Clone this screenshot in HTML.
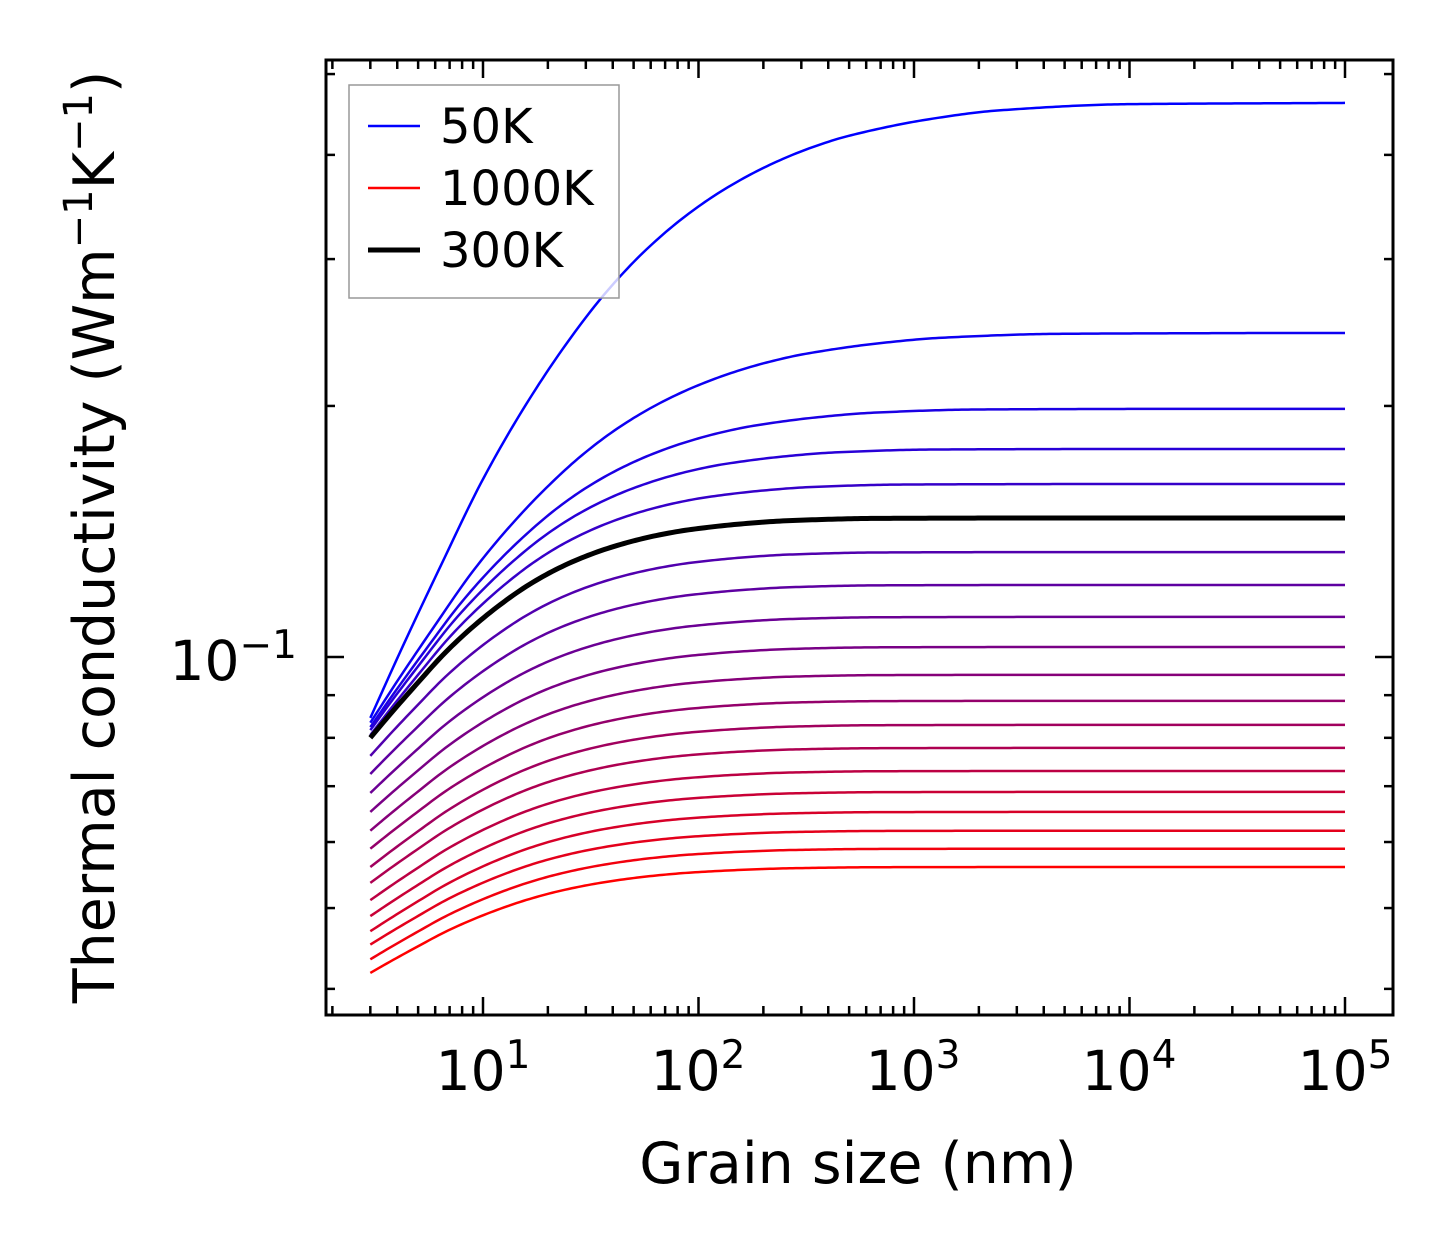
<!DOCTYPE html>
<html><head><meta charset="utf-8">
<style>
html,body{margin:0;padding:0;background:#fff;}
svg text{font-family:"DejaVu Sans","Liberation Sans",sans-serif;fill:#000;}
</style></head>
<body>
<svg id="chart" width="1454" height="1254" xmlns="http://www.w3.org/2000/svg">
  <rect x="0" y="0" width="1454" height="1254" fill="#fff"/>
  <g id="curves"></g>
  <g id="ticks"></g>
  <rect x="326" y="60" width="1067" height="955" fill="none" stroke="#000" stroke-width="3"/>
  <text x="483" y="1090" font-size="55" text-anchor="middle">10<tspan dy="-22" font-size="39">1</tspan></text>
  <text x="698" y="1090" font-size="55" text-anchor="middle">10<tspan dy="-22" font-size="39">2</tspan></text>
  <text x="913" y="1090" font-size="55" text-anchor="middle">10<tspan dy="-22" font-size="39">3</tspan></text>
  <text x="1129" y="1090" font-size="55" text-anchor="middle">10<tspan dy="-22" font-size="39">4</tspan></text>
  <text x="1345" y="1090" font-size="55" text-anchor="middle">10<tspan dy="-22" font-size="39">5</tspan></text>
  <text x="297" y="680" font-size="55" text-anchor="end">10<tspan dy="-22" font-size="39">−1</tspan></text>
  <text x="858" y="1183" font-size="57" text-anchor="middle">Grain size (nm)</text>
  <text transform="translate(114,537) rotate(-90)" font-size="57" text-anchor="middle">Thermal conductivity (Wm<tspan dy="-22" font-size="40">−1</tspan><tspan dy="22">K</tspan><tspan dy="-22" font-size="40">−1</tspan><tspan dy="22">)</tspan></text>
  <g>
    <rect x="349" y="85" width="270" height="213" fill="#fff" fill-opacity="0.8" stroke="#999" stroke-width="1.5"/>
    <line x1="368" y1="126" x2="420" y2="126" stroke="#0000ff" stroke-width="2.5"/>
    <text x="440" y="143" font-size="48">50K</text>
    <line x1="368" y1="188" x2="420" y2="188" stroke="#ff0000" stroke-width="2.5"/>
    <text x="440" y="205" font-size="48">1000K</text>
    <line x1="368" y1="250" x2="420" y2="250" stroke="#000" stroke-width="5"/>
    <text x="440" y="267" font-size="48">300K</text>
  </g>
</svg>
<script>
// Plateau conductivity (W/mK) at large grain size, per curve (50K ... 1000K)
const kInf = [0.4617,0.2446,0.1984,0.1776,0.1612,0.1468,0.1336,0.1220,0.1117,0.1028,0.0952,0.0886,0.0829,0.0778,0.0730,0.0689,0.0652,0.0619,0.0589,0.0560];
// Conductivity at smallest grain size (3 nm)
const kMin = [0.0845,0.0834,0.0824,0.0817,0.0806,0.0800,0.0761,0.0724,0.0687,0.0652,0.0619,0.0589,0.0560,0.0536,0.0511,0.0489,0.0469,0.0452,0.0434,0.0418];
// Saturation speed per curve
const knee = [1.0,1.1,1.25,1.35,1.43,1.5,1.5,1.5,1.5,1.5,1.5,1.5,1.5,1.5,1.5,1.5,1.5,1.5,1.5,1.5];
// Saturation shape (fraction of log-rise) vs log10 grain size
const shapeLogL = [0.477,0.619,0.810,0.995,1.186,1.376,1.566,1.756,1.947,2.132,2.323,2.513,2.703,3.079,3.399,4,5];
const shapeFrac = [0,0.110,0.252,0.385,0.502,0.603,0.690,0.761,0.818,0.862,0.898,0.926,0.947,0.974,0.988,0.998,1];
const blackIndex = 5;

const NS="http://www.w3.org/2000/svg";
const xPix = v => 483 + 215.5*(Math.log10(v)-1);
const yPix = v => 657 - 834*Math.log10(v/0.1);
// monotone cubic (Fritsch-Carlson) interpolation of the shape table
const nS=shapeLogL.length, dS=[], mS=[];
for(let i=0;i<nS-1;i++) dS.push((shapeFrac[i+1]-shapeFrac[i])/(shapeLogL[i+1]-shapeLogL[i]));
for(let i=0;i<nS;i++){
  if(i===0) mS.push(dS[0]); else if(i===nS-1) mS.push(dS[nS-2]);
  else mS.push(dS[i-1]*dS[i]<=0?0:2/(1/dS[i-1]+1/dS[i]));
}
function shape(u){
  if(u<=shapeLogL[0]) return 0;
  if(u>=shapeLogL[nS-1]) return 1;
  for(let i=0;i<nS-1;i++){
    if(u<=shapeLogL[i+1]){
      const h=shapeLogL[i+1]-shapeLogL[i], t=(u-shapeLogL[i])/h;
      const h00=2*t*t*t-3*t*t+1,h10=t*t*t-2*t*t+t,h01=-2*t*t*t+3*t*t,h11=t*t*t-t*t;
      return h00*shapeFrac[i]+h10*h*mS[i]+h01*shapeFrac[i+1]+h11*h*mS[i+1];
    }
  }
  return 1;
}
const g=document.getElementById('curves');
const order=[...kInf.keys()].filter(i=>i!==blackIndex).concat([blackIndex]);
order.forEach(i=>{
  const n=kInf.length, t=i/(n-1);
  let d='';
  for(let j=0;j<=300;j++){
    const lg=Math.log10(3)+j/300*(5-Math.log10(3));
    const u=0.477+(lg-0.477)*knee[i];
    const s=Math.min(1,shape(u));
    const k=kMin[i]*Math.pow(kInf[i]/kMin[i],s);
    d+=(j?'L':'M')+xPix(Math.pow(10,lg)).toFixed(2)+','+yPix(k).toFixed(2);
  }
  const p=document.createElementNS(NS,'path');
  p.setAttribute('d',d);p.setAttribute('fill','none');p.setAttribute('stroke-linejoin','round');
  if(i===blackIndex){p.setAttribute('stroke','#000');p.setAttribute('stroke-width','5');}
  else{p.setAttribute('stroke',`rgb(${Math.round(255*t)},0,${Math.round(255*(1-t))})`);p.setAttribute('stroke-width','2.5');}
  
  
  g.appendChild(p);
});
const tg=document.getElementById('ticks');
function tick(x1,y1,x2,y2,w){const l=document.createElementNS(NS,'line');l.setAttribute('x1',x1);l.setAttribute('y1',y1);l.setAttribute('x2',x2);l.setAttribute('y2',y2);l.setAttribute('stroke','#000');l.setAttribute('stroke-width',w);
  
  
  tg.appendChild(l);}
for(let e=0;e<=5;e++){for(let m=1;m<=9;m++){const v=m*Math.pow(10,e);const x=xPix(v);if(x<328||x>1392)continue;const L=m===1?18:9;
  tick(x,1015,x,1015-L,2.5);tick(x,60,x,60+L,2.5);}}
[0.04,0.05,0.06,0.07,0.08,0.09,0.1,0.2,0.3,0.4,0.5].forEach(v=>{const y=yPix(v);const L=v===0.1?18:9;
  tick(326,y,326+L,y,2.5);tick(1393,y,1393-L,y,2.5);});
</script>
</body></html>
